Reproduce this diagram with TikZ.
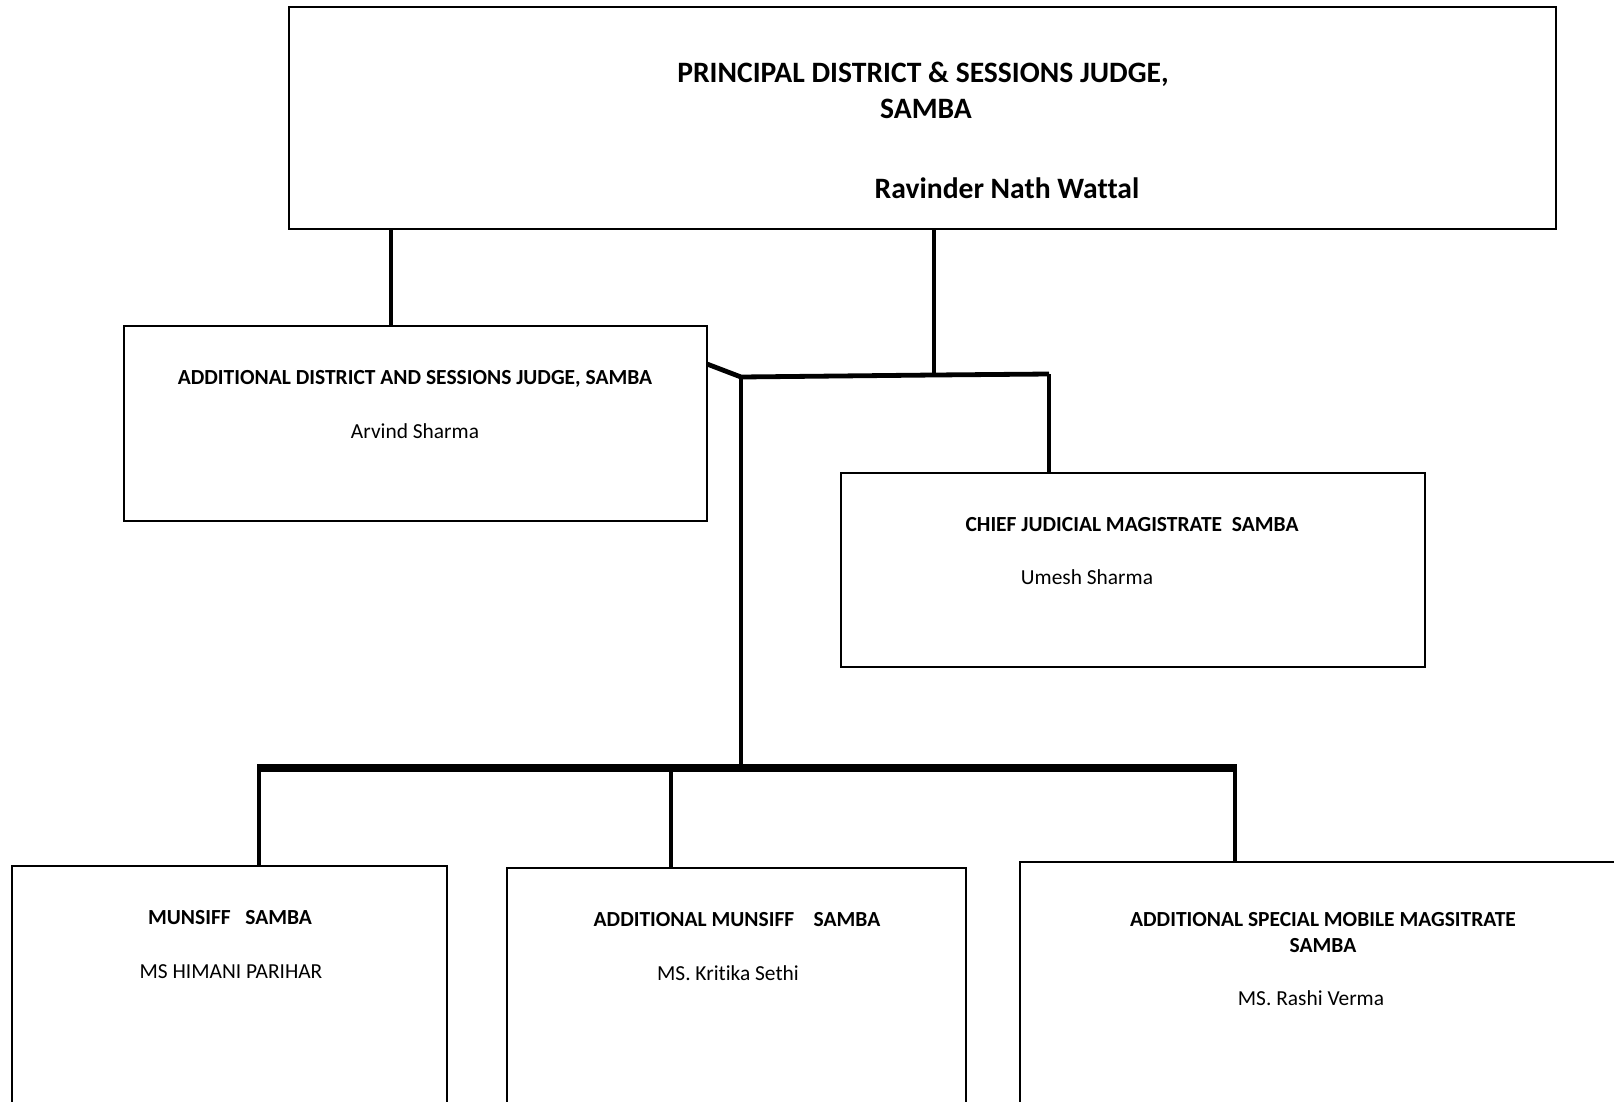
\documentclass[tikz,border=0pt]{standalone}
\usepackage{fontspec}
\setmainfont{Carlito}[Ligatures=NoCommon]
\begin{document}
\begin{tikzpicture}[x=1pt,y=-1pt,
  box/.style={draw, line width=2.5pt, anchor=north west, inner sep=0pt, outer sep=0pt},
  conn/.style={line width=4.8pt},
  bus/.style={line width=7.5pt},
  tA/.style={inner sep=0pt, font=\fontsize{29.6}{34}\selectfont\bfseries},
  tB/.style={inner sep=0pt, font=\fontsize{21.5}{25}\selectfont\bfseries},
  tC/.style={inner sep=0pt, font=\fontsize{21.4}{25}\selectfont}]
\clip (0,0) rectangle (1614,1101);
\fill[white] (0,0) rectangle (1614,1101);
% boxes
\node[box, minimum width=1267pt, minimum height=222pt] (top) at (289,7) {};
\node[box, minimum width=583pt, minimum height=195pt] (adj) at (124,326) {};
\node[box, minimum width=584pt, minimum height=194pt] (cjm) at (841,473) {};
\node[box, minimum width=435pt, minimum height=270pt] (mun) at (12,866) {};
\node[box, minimum width=459pt, minimum height=270pt] (amun) at (507,868) {};
\node[box, minimum width=640pt, minimum height=270pt] (asmm) at (1020,862) {};
% texts
\node[tA] (ttop1) at (923,74) {PRINCIPAL DISTRICT \& SESSIONS JUDGE,};
\node[tA] (ttop2) at (926,109) {SAMBA};
\node[tA] (ttop3) at (1007,188) {Ravinder Nath Wattal};
\node[tB] (tadj1) at (415,379) {ADDITIONAL DISTRICT AND SESSIONS JUDGE, SAMBA};
\node[tC] (tadj2) at (415,431) {Arvind Sharma};
\node[tB] (tcjm1) at (1132,525) {CHIEF JUDICIAL MAGISTRATE\ \ SAMBA};
\node[tC] (tcjm2) at (1087,577) {Umesh Sharma};
\node[tB] (tmun1) at (230,918) {MUNSIFF\ \ \ SAMBA};
\node[tC] (tmun2) at (231,972) {MS HIMANI PARIHAR};
\node[tB] (tamun1) at (737,920) {ADDITIONAL MUNSIFF\ \ \ \ SAMBA};
\node[tC] (tamun2) at (728,973) {MS. Kritika Sethi};
\node[tB] (tasmm1) at (1323,920) {ADDITIONAL SPECIAL MOBILE MAGSITRATE};
\node[tB] (tasmm2) at (1323,946) {SAMBA};
\node[tC] (tasmm3) at (1311,998) {MS. Rashi Verma};
% junction coordinates
\coordinate (xL) at (391,0);
\coordinate (xC) at (934,0);
\coordinate (jS) at (707,364);
\coordinate (jM) at (741,377);
\coordinate (jR) at (1049,374);
\coordinate (jC) at (934,375);
\coordinate (bM) at (741,768);
\coordinate (bL) at (257,768);
\coordinate (bR) at (1237,768);
\coordinate (x1) at (259,0);
\coordinate (x2) at (671,0);
\coordinate (x3) at (1235,0);
% connectors
\draw[conn] (top.south -| xL) -- (adj.north -| xL);
\draw[conn] (top.south -| xC) -- (jC);
\draw[conn] (jS) -- (jM) -- (jC) -- (jR);
\draw[conn] (jR) -- (cjm.north -| jR);
\draw[conn] (jM) -- (bM);
\draw[bus] (bL) -- (bR);
\draw[conn] (bL -| x1) -- (mun.north -| x1);
\draw[line width=3.8pt] (bM -| x2) -- (amun.north -| x2);
\draw[conn] (bM -| x3) -- (asmm.north -| x3);
\end{tikzpicture}
\end{document}
